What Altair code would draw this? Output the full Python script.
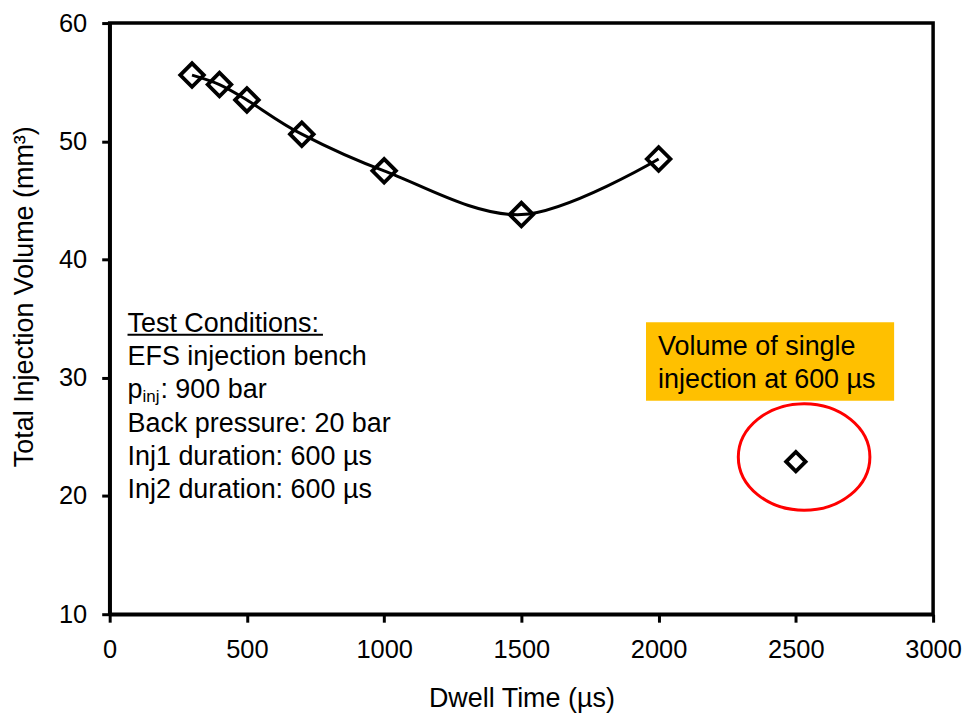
import altair as alt
import pandas as pd

# ---------------- data ----------------
dwell_time = [300, 400, 500, 700, 1000, 1500, 2000]
total_volume = [55.6, 54.8, 53.5, 50.6, 47.5, 43.8, 48.5]
single_dwell = [2500]
single_volume = [22.9]

x_ticks = [0, 500, 1000, 1500, 2000, 2500, 3000]
y_ticks = [10, 20, 30, 40, 50, 60]

x_title = "Dwell Time (µs)"
y_title = "Total Injection Volume (mm³)"

# annotation block (anchors in data units)
cond_text = ["Test Conditions:", "EFS injection bench", "Back pressure: 20 bar",
             "Inj1 duration: 600 µs", "Inj2 duration: 600 µs"]
cond_y = [33.85, 31.05, 25.45, 22.65, 19.85]
cond_x = [65] * len(cond_text)
pinj_parts = ["p", "inj", ": 900 bar"]
pinj_y = [28.25]
underline_x = [65]
underline_x2 = [777]
underline_y = [33.63]

note_text = ["Volume of single", "injection at 600 µs"]
note_x = [1998, 1998]
note_y = [31.9, 29.1]
box_x, box_x2, box_y, box_y2 = [1954], [2858], [34.7], [28.05]

ellipse_x = [2530]
ellipse_y = [23.3]

FONT = "Liberation Sans"

# ---------------- shared scales / axes ----------------
xs = alt.Scale(domain=[0, 3000], nice=False, zero=False)
ys = alt.Scale(domain=[10, 60], nice=False, zero=False)

xaxis = alt.Axis(values=x_ticks, title=x_title, grid=False, format="d",
                 domainColor="black", domainWidth=3.5,
                 tickColor="black", tickWidth=3, tickSize=8,
                 labelFont=FONT, labelFontSize=25.5, labelColor="black",
                 labelPadding=15, labelFlush=False, labelOverlap=False,
                 titleFont=FONT, titleFontSize=27, titleFontWeight="normal",
                 titleColor="black", titleBaseline="alphabetic", titleY=93)
yaxis = alt.Axis(values=y_ticks, title=y_title, grid=False, format="d",
                 domainColor="black", domainWidth=3.5,
                 tickColor="black", tickWidth=3, tickSize=8,
                 labelFont=FONT, labelFontSize=25.5, labelColor="black",
                 labelPadding=15, labelFlush=False, labelOverlap=False,
                 titleFont=FONT, titleFontSize=27, titleFontWeight="normal",
                 titleColor="black", titleBaseline="alphabetic",
                 titleAngle=270, titleAlign="center", titleX=-77, titleY=274)

X = alt.X("x:Q", scale=xs, axis=xaxis)
Y = alt.Y("y:Q", scale=ys, axis=yaxis)

main_df = pd.DataFrame({"x": dwell_time, "y": total_volume})
single_df = pd.DataFrame({"x": single_dwell, "y": single_volume})

box = alt.Chart(pd.DataFrame({"x": box_x, "x2": box_x2, "y": box_y, "y2": box_y2})).mark_rect(
    color="#FFC000").encode(x=X, x2="x2:Q", y=Y, y2="y2:Q")

ell_path = ("M1,0 C1,0.447 0.552,0.81 0,0.81 C-0.552,0.81 -1,0.447 -1,0 "
            "C-1,-0.447 -0.552,-0.81 0,-0.81 C0.552,-0.81 1,-0.447 1,0 Z")
ellipse = alt.Chart(pd.DataFrame({"x": ellipse_x, "y": ellipse_y})).mark_point(
    shape=ell_path, size=132 * 132, filled=False, color="#FF0000", strokeWidth=3, opacity=1
).encode(x=X, y=Y)

note = alt.Chart(pd.DataFrame({"x": note_x, "y": note_y, "t": note_text})).mark_text(
    align="left", baseline="alphabetic", font=FONT, fontSize=27, color="black"
).encode(x=X, y=Y, text="t:N")

cond = alt.Chart(pd.DataFrame({"x": cond_x, "y": cond_y, "t": cond_text})).mark_text(
    align="left", baseline="alphabetic", font=FONT, fontSize=27, color="black"
).encode(x=X, y=Y, text="t:N")

pdf = pd.DataFrame({"x": underline_x, "y": pinj_y})
p_main = alt.Chart(pdf.assign(t=pinj_parts[0])).mark_text(
    align="left", baseline="alphabetic", font=FONT, fontSize=27, color="black"
).encode(x=X, y=Y, text="t:N")
p_sub = alt.Chart(pdf.assign(t=pinj_parts[1])).mark_text(
    align="left", baseline="alphabetic", font=FONT, fontSize=17, color="black", dx=15, dy=4
).encode(x=X, y=Y, text="t:N")
p_rest = alt.Chart(pdf.assign(t=pinj_parts[2])).mark_text(
    align="left", baseline="alphabetic", font=FONT, fontSize=27, color="black", dx=33
).encode(x=X, y=Y, text="t:N")

underline = alt.Chart(pd.DataFrame({"x": underline_x, "x2": underline_x2, "y": underline_y})).mark_rule(
    color="black", strokeWidth=2).encode(x=X, x2="x2:Q", y=Y)

line = alt.Chart(main_df).mark_line(
    interpolate="cardinal", color="black", strokeWidth=3).encode(x=X, y=Y)

pts = alt.Chart(main_df).mark_point(
    shape="diamond", filled=False, size=560, color="black", strokeWidth=3.8, opacity=1
).encode(x=X, y=Y)

single_pt = alt.Chart(single_df).mark_point(
    shape="diamond", filled=False, size=380, color="black", strokeWidth=3.8, opacity=1
).encode(x=X, y=Y)

chart = alt.layer(box, ellipse, note, cond, p_main, p_sub, p_rest, underline, line, pts, single_pt).properties(
    width=826, height=593,
    autosize=alt.AutoSizeParams(type="none"),
    padding={"left": 102, "top": 14, "right": 32, "bottom": 100},
    background="white",
).configure_view(stroke="black", strokeWidth=3.5)

chart.save("out.html", embed_options={"renderer": "svg", "actions": False})
